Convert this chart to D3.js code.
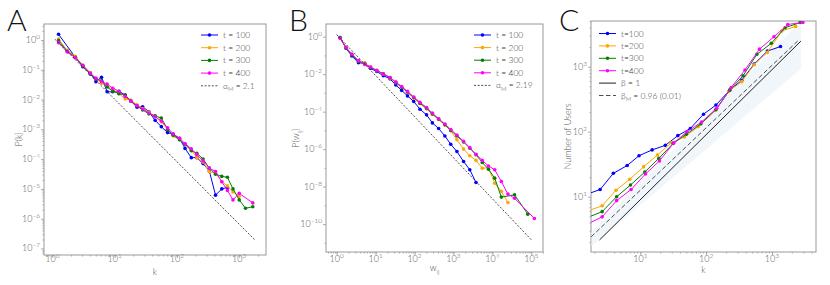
<!DOCTYPE html>
<html>
<head>
<meta charset="utf-8">
<script src="https://cdn.jsdelivr.net/npm/d3@7"></script>
<style>
  body { margin: 0; background: #fff; }
  svg text { font-family: Lato, "Liberation Sans", sans-serif; font-weight: 300; }
</style>
</head>
<body>
<script>
// Panel A: degree distribution P(k)
const kA = [1.26, 1.74, 2.34, 3.09, 4.07, 5.01, 6.17, 7.59, 9.33, 11.7, 14.8, 18.2, 22.9, 28.2, 35.5, 44.7,
  56.2, 70.8, 87.1, 110, 135, 170, 209, 263, 331, 417, 525, 646, 794, 1000, 1259, 1650];
const pA100 = [1.55, null, 2.63e-1, 1.26e-1, 7.94e-2, 3.98e-2, 5.62e-2, 1.82e-2, 1.82e-2, 1.91e-2, 1.41e-2,
  8.91e-3, 5.50e-3, 5.75e-3, 3.89e-3, 2.00e-3, 1.23e-3, 7.76e-4, 6.76e-4, 5.01e-4, 2.29e-4, 1.12e-4,
  1.12e-4, 7.08e-5, 3.98e-5, 6.17e-6, 1.00e-5, 1.12e-5];
const pA200 = [1.07, 4.47e-1, 2.82e-1, 1.41e-1, 7.94e-2, 5.01e-2, 3.55e-2, 2.82e-2, 2.24e-2, 1.58e-2, 1.05e-2,
  9.55e-3, 6.61e-3, 5.01e-3, 3.80e-3, 2.82e-3, 1.78e-3, 1.00e-3, 6.03e-4, 4.47e-4, 3.16e-4, 2.00e-4,
  1.12e-4, 7.94e-5, 3.80e-5, 3.31e-5, 1.78e-5, 1.26e-5, 7.94e-6, 5.62e-6];
const pA300 = [9.55e-1, 4.17e-1, 2.63e-1, 1.32e-1, 7.08e-2, 5.01e-2, 4.27e-2, 2.63e-2, 1.91e-2, 1.58e-2, 1.41e-2,
  8.91e-3, 6.03e-3, 4.47e-3, 3.31e-3, 2.82e-3, 2.40e-3, 1.00e-3, 6.31e-4, 4.47e-4, 3.16e-4, 1.91e-4,
  1.58e-4, 1.00e-4, 5.01e-5, 3.09e-5, 2.63e-5, 2.45e-5, 1.00e-5, 4.27e-6, 2.24e-6, 2.51e-6];
const pA400 = [8.13e-1, 3.98e-1, 2.51e-1, 1.41e-1, 7.59e-2, 5.25e-2, 3.98e-2, 3.31e-2, 2.40e-2, 1.91e-2, 1.26e-2,
  8.91e-3, 6.31e-3, 4.79e-3, 3.55e-3, 2.63e-3, 1.91e-3, 1.12e-3, 7.08e-4, 5.01e-4, 3.31e-4, 2.24e-4,
  1.41e-4, 8.71e-5, 5.01e-5, 3.80e-5, 1.74e-5, 8.91e-6, 4.27e-6, 7.08e-6, null, 3.39e-6];
const alphaA = 2.1, fitA = { c: 1.3, from: 1.1, to: 1800 };

// Panel B: weight distribution P(w_ij)
const wB = [1.22, 1.74, 2.45, 3.63, 5.25, 7.41, 10.7, 15.8, 23.4, 33.1, 46.8, 66.1, 95.5, 138, 204, 288, 417,
  603, 851, 1230, 1820, 2630, 3800, 5500, 7940, 11500, 17000, 25100, 37200, 55000, 81300, 120000];
const pB100 = [9.12e-1, 2.40e-1, 9.33e-2, 4.07e-2, 3.80e-2, 2.04e-2, 1.38e-2, 8.32e-3, 5.62e-3, 2.63e-3, 1.35e-3,
  6.92e-4, 3.47e-4, 1.35e-4, 6.76e-5, 2.51e-5, 1.26e-5, 5.01e-6, 1.82e-6, 7.41e-7, 2.19e-7, 7.94e-8, 1.66e-8];
const pB200 = [8.91e-1, 2.69e-1, 1.12e-1, 5.01e-2, 3.98e-2, 2.40e-2, 1.51e-2, 1.00e-2, 6.31e-3, 3.55e-3, 2.00e-3,
  1.05e-3, 5.25e-4, 2.63e-4, 1.41e-4, 7.08e-5, 3.80e-5, 1.91e-5, 9.55e-6, 3.16e-6, 1.00e-6, 4.47e-7, 2.51e-7,
  9.55e-8, 1.00e-7, 1.51e-8, 5.62e-9, 1.41e-9];
const pB300 = [8.91e-1, 2.51e-1, 1.07e-1, 4.79e-2, 3.55e-2, 2.24e-2, 1.58e-2, 1.05e-2, 6.61e-3, 3.63e-3, 2.00e-3,
  1.12e-3, 5.62e-4, 2.82e-4, 1.51e-4, 7.59e-5, 3.98e-5, 2.00e-5, 1.00e-5, 5.01e-6, 2.40e-6, 1.12e-6, 5.01e-7,
  1.95e-7, 8.51e-8, 2.82e-8, 2.75e-9, null, 3.63e-9, null, 3.39e-10];
const pB400 = [8.32e-1, 2.63e-1, 1.20e-1, 5.25e-2, 3.31e-2, 2.40e-2, 1.62e-2, 1.00e-2, 6.61e-3, 3.80e-3, 2.19e-3,
  1.20e-3, 6.03e-4, 3.16e-4, 1.66e-4, 8.32e-5, 4.17e-5, 2.19e-5, 1.12e-5, 5.62e-6, 2.63e-6, 1.20e-6, 5.25e-7,
  2.51e-7, 1.26e-7, 7.94e-8, 1.86e-8, 3.98e-9, 2.40e-9, null, null, 2.00e-10];
const alphaB = 2.19, fitB = { c: 1.3, from: 1, to: 1e5 };

// Panel C: number of users vs k
const kC100 = [1.58, 2.45, 3.89, 6.31, 9.55, 15.1, 24.0, 37.2, 57.5, 91.2, 141, 229, 347, 537, 851, 1349];
const nC100 = [11.0, 12.9, 22.9, 30.2, 42.7, 52.5, 61.7, 87.1, 112, 186, 257, 437, 617, 1096, 1738, 2042];
const kC200 = [1.58, 2.63, 4.27, 6.92, 11.2, 18.2, 29.5, 46.8, 75.9, 138, 219, 347, 537, 851, 1413, 2291];
const nC200 = [6.03, 7.24, 12.6, 18.6, 28.8, 43.7, 67.6, 83.2, 120, 214, 417, 589, 1072, 1660, 3548, 4169];
const kC300 = [1.58, 2.63, 4.37, 7.08, 11.7, 19.1, 31.6, 50.1, 83.2, 141, 229, 363, 589, 977, 1585, 2692];
const nC300 = [4.79, 5.89, 10.0, 15.1, 24.0, 38.9, 66.1, 91.2, 132, 219, 437, 724, 1549, 2291, 3981, 4786];
const kC400 = [1.58, 2.63, 4.37, 7.24, 12.0, 19.5, 32.4, 51.3, 85.1, 145, 240, 389, 646, 1072, 1738, 2951];
const nC400 = [3.80, 4.90, 8.71, 12.9, 22.4, 35.5, 67.6, 100, 141, 229, 479, 891, 1862, 2884, 4467, 4786];
const betaC = 1, betaFitC = { c: 0.90, from: 2.4, to: 2750 };
const betaMC = 0.96, betaMFitC = { c: 1.38, from: 1.5, to: 2512 };
const bandK = [1.5, 2750], bandLow = [1.45, 933], bandHigh = [2.4, 5012];

const seriesNames = ["t = 100", "t = 200", "t = 300", "t = 400"];
const seriesColors = ["#0000ff", "#ffa500", "#008000", "#ff00ff"];

const svg = d3.select("body").append("svg").attr("width", 830).attr("height", 285);

const panelA = makePanel("A", { l: 44, r: 266, t: 24, b: 255 }, [0.736, 2690], [6.03e-8, 3.44],
  [1, 10, 100, 1000], d3.range(0, -8, -1).map((e) => 10 ** e), true, { letterX: 7, yTitleX: 19, xTitleY: 275 });
const panelB = makePanel("B", { l: 326, r: 543, t: 24, b: 252 }, [0.532, 2.0e5], [3.24e-12, 4.75],
  d3.range(0, 6).map((e) => 10 ** e), d3.range(0, -11, -2).map((e) => 10 ** e), false,
  { letterX: 289, yTitleX: 296, xTitleY: 271 });
const panelC = makePanel("C", { l: 591, r: 816, t: 21, b: 252 }, [1.78, 4670], [1.41, 5050],
  [10, 100, 1000], [10, 100, 1000], true, { letterX: 559, yTitleX: 568, xTitleY: 273 });

// Panel A ///////////////////////////////////////////////////////////////
[pA100, pA200, pA300, pA400].forEach((p, i) => drawSeries(panelA, kA, p, seriesColors[i]));
drawPowerLine(panelA, fitA.c, -alphaA, fitA.from, fitA.to, "2,1.6");
axisTitle(panelA, [["k"]], [["P(k)"]]);
drawLegend(panelA, 201, 35, 12.7, legendItems([["α"], ["M", "sub"], [" =  2.1"]], "2,1.6"));

// Panel B ///////////////////////////////////////////////////////////////
[pB100, pB200, pB300, pB400].forEach((p, i) => drawSeries(panelB, wB, p, seriesColors[i]));
drawPowerLine(panelB, fitB.c, -alphaB, fitB.from, fitB.to, "2,1.6");
axisTitle(panelB, [["w"], ["ij", "sub"]], [["P(w"], ["ij", "sub"], [")"]]);
drawLegend(panelB, 474, 35, 12.6, legendItems([["α"], ["M", "sub"], [" =  2.19"]], "2,1.6"));

// Panel C ///////////////////////////////////////////////////////////////
const bandPts = bandK.map((k, i) => [k, bandLow[i], bandHigh[i]]);
panelC.plot.append("path")
  .datum(bandPts)
  .attr("fill", "#e3eef5")
  .attr("fill-opacity", 0.5)
  .attr("d", d3.area().x((d) => panelC.x(d[0])).y0((d) => panelC.y(d[1])).y1((d) => panelC.y(d[2])));
[[kC100, nC100], [kC200, nC200], [kC300, nC300], [kC400, nC400]].forEach(([k, n], i) =>
  drawSeries(panelC, k, n, seriesColors[i]));
drawPowerLine(panelC, betaFitC.c, betaC, betaFitC.from, betaFitC.to, null);
drawPowerLine(panelC, betaMFitC.c, betaMC, betaMFitC.from, betaMFitC.to, "4.5,2.5");
axisTitle(panelC, [["k"]], [["Number of Users"]]);
const itemsC = seriesNames.map((s, i) => ({ text: [[s.replace(/ /g, "")]], color: seriesColors[i] }));
itemsC.push({ text: [["β = 1"]], color: "#222", dash: null, plain: true });
itemsC.push({ text: [["β"], ["M", "sub"], [" = 0.96 (0.01)"]], color: "#222", dash: "4.5,2.5", plain: true });
drawLegend(panelC, 599, 33.5, 12.4, itemsC);

// Helpers ///////////////////////////////////////////////////////////////

function makePanel(letter, box, xLim, yLim, xMajor, yMajor, yMinorSub, pos) {
  const x = d3.scaleLog().domain(xLim).range([box.l, box.r]);
  const y = d3.scaleLog().domain(yLim).range([box.b, box.t]);
  const g = svg.append("g");
  const clipId = "clip" + letter;
  g.append("clipPath").attr("id", clipId)
    .append("rect").attr("x", box.l).attr("y", box.t)
    .attr("width", box.r - box.l).attr("height", box.b - box.t);

  const xMinor = minorTicks(xLim, true);
  const yMinor = minorTicks(yLim, yMinorSub).filter((v) => !yMajor.includes(v));

  const xAx = g.append("g").attr("transform", `translate(0,${box.b})`);
  xAx.call(d3.axisBottom(x).tickValues(xMinor).tickSize(1.5).tickFormat(""));
  xAx.append("g").call(d3.axisBottom(x).tickValues(xMajor).tickSize(3).tickFormat(""));
  const yAx = g.append("g").attr("transform", `translate(${box.l},0)`);
  yAx.call(d3.axisLeft(y).tickValues(yMinor).tickSize(1.5).tickFormat(""));
  yAx.append("g").call(d3.axisLeft(y).tickValues(yMajor).tickSize(3).tickFormat(""));
  g.selectAll(".domain").remove();
  g.selectAll(".tick line").attr("stroke", "#999").attr("stroke-width", 0.8);

  xMajor.forEach((v) => {
    const t = g.append("text").attr("x", x(v)).attr("y", 262)
      .attr("text-anchor", "middle").attr("font-size", 9).attr("fill", "#555");
    powLabel(t, v);
  });
  yMajor.forEach((v) => {
    const t = g.append("text").attr("x", box.l - 4).attr("y", y(v) + 3)
      .attr("text-anchor", "end").attr("font-size", 9).attr("fill", "#555");
    powLabel(t, v);
  });

  g.append("rect").attr("x", box.l).attr("y", box.t)
    .attr("width", box.r - box.l).attr("height", box.b - box.t)
    .attr("fill", "none").attr("stroke", "#999").attr("stroke-width", 1);

  g.append("text").text(letter).attr("x", pos.letterX).attr("y", 31)
    .attr("font-size", 30).attr("fill", "#111");

  const plot = g.append("g").attr("clip-path", `url(#${clipId})`);
  return { g, plot, x, y, box, pos };
}

function minorTicks([lo, hi], sub) {
  const out = [];
  for (let e = Math.floor(Math.log10(lo)) - 1; e <= Math.ceil(Math.log10(hi)); e++) {
    const ms = sub ? d3.range(1, 10) : [1];
    ms.forEach((m) => {
      const v = m * 10 ** e;
      if (v >= lo && v <= hi) out.push(+v.toPrecision(6));
    });
  }
  return out;
}

function powLabel(t, v) {
  const e = Math.round(Math.log10(v));
  t.append("tspan").text("10");
  t.append("tspan").attr("dy", -4).attr("font-size", 6.5).text(String(e).replace("-", "\u2212"));
}

function drawSeries(p, xs, ys, color) {
  const pts = xs.map((v, i) => [v, ys[i]]).filter((d) => d[1] != null);
  p.plot.append("path").datum(pts)
    .attr("fill", "none").attr("stroke", color).attr("stroke-width", 1)
    .attr("d", d3.line().x((d) => p.x(d[0])).y((d) => p.y(d[1])));
  p.plot.selectAll(null).data(pts).join("circle")
    .attr("cx", (d) => p.x(d[0])).attr("cy", (d) => p.y(d[1]))
    .attr("r", 1.8).attr("fill", color);
}

function drawPowerLine(p, c, exponent, from, to, dash) {
  const pts = [from, to].map((v) => [v, c * v ** exponent]);
  p.plot.append("path").datum(pts)
    .attr("fill", "none").attr("stroke", "#222").attr("stroke-width", dash ? 0.8 : 1)
    .attr("stroke-dasharray", dash)
    .attr("d", d3.line().x((d) => p.x(d[0])).y((d) => p.y(d[1])));
}

// parts: [text, kind]; a "sub" part is lowered, the next part is raised back
function richText(t, parts) {
  let lowered = false;
  parts.forEach(([s, kind]) => {
    const span = t.append("tspan").text(s);
    if (kind === "sub") {
      span.attr("dy", 2.5).attr("font-size", "0.7em");
      lowered = true;
    } else if (lowered) {
      span.attr("dy", -2.5);
      lowered = false;
    }
  });
}

function axisTitle(p, xParts, yParts) {
  const { box, pos } = p;
  const tx = p.g.append("text").attr("x", (box.l + box.r) / 2).attr("y", pos.xTitleY)
    .attr("text-anchor", "middle").attr("font-size", 9).attr("fill", "#555");
  richText(tx, xParts);
  const cy = (box.t + box.b) / 2;
  const ty = p.g.append("text")
    .attr("transform", `translate(${pos.yTitleX + 3},${cy}) rotate(-90)`)
    .attr("text-anchor", "middle").attr("font-size", 9).attr("fill", "#555");
  richText(ty, yParts);
}

function legendItems(fitParts, dash) {
  const items = seriesNames.map((s, i) => ({ text: [[s]], color: seriesColors[i] }));
  items.push({ text: fitParts, color: "#222", dash, plain: true });
  return items;
}

function drawLegend(p, x0, y0, dy, items) {
  const lg = p.g.append("g");
  items.forEach((it, i) => {
    const y = y0 + i * dy;
    lg.append("line").attr("x1", x0).attr("x2", x0 + 17).attr("y1", y).attr("y2", y)
      .attr("stroke", it.color).attr("stroke-width", it.plain && it.dash ? 0.8 : 1)
      .attr("stroke-dasharray", it.dash || null);
    if (!it.plain) {
      lg.append("circle").attr("cx", x0 + 8.5).attr("cy", y).attr("r", 1.8).attr("fill", it.color);
    }
    const t = lg.append("text").attr("x", x0 + 22).attr("y", y + 3)
      .attr("font-size", 8.5).attr("fill", "#444");
    richText(t, it.text);
  });
}
</script>
</body>
</html>
